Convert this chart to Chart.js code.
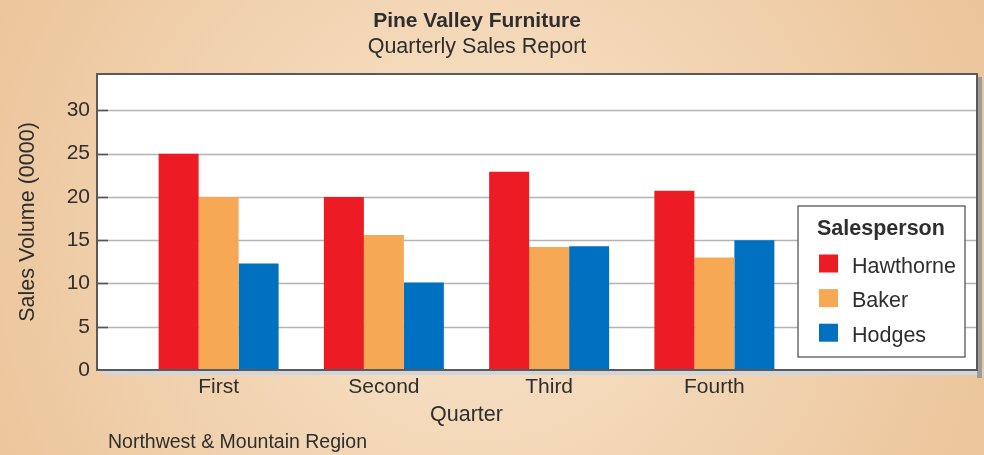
<!DOCTYPE html>
<html lang="en">
<head>
<meta charset="UTF-8" />
<title>Pine Valley Furniture</title>
<script src="https://cdn.jsdelivr.net/npm/chart.js"></script>
<style>
  body { margin: 0; }
  #wrap { width: 984px; height: 455px; }
</style>
</head>
<body>
<div id="wrap"><canvas id="salesChart" width="984" height="455"></canvas></div>
<script>
  const quarters = ['First', 'Second', 'Third', 'Fourth'];
  const salespeople = ['Hawthorne', 'Baker', 'Hodges'];
  const hawthorne = [25, 20, 22.9, 20.7];
  const baker = [20, 15.6, 14.2, 13.0];
  const hodges = [12.3, 10.1, 14.3, 15.0];
  const yTicks = [0, 5, 10, 15, 20, 25, 30];
  const colors = ['#ed1c24', '#f7a854', '#0070c0'];

  const FONT = "'Liberation Sans', Arial, sans-serif";
  const TEXT = '#2e2e2e';

  // frame, gridlines, titles and the boxed legend
  const framePlugin = {
    id: 'frame',
    beforeDraw(chart) {
      const { ctx, chartArea: ca, scales: { y } } = chart;
      const L = ca.left - 39, R = ca.right + 180, T = ca.top, B = ca.bottom;
      ctx.save();
      const g = ctx.createRadialGradient(480, 240, 30, 480, 240, 600);
      g.addColorStop(0, '#f8e3c9');
      g.addColorStop(1, '#eac195');
      ctx.fillStyle = g;
      ctx.fillRect(0, 0, chart.width, chart.height);

      // shadow
      ctx.fillStyle = '#d2d6db';
      ctx.fillRect(L + 6, B, R - L, 5);
      ctx.fillStyle = '#9c9c9c';
      ctx.fillRect(R, T + 3, 5, B - T + 5);

      ctx.fillStyle = '#ffffff';
      ctx.fillRect(L, T, R - L, B - T);

      yTicks.forEach(v => {
        if (v === 0) return;
        const py = Math.round(y.getPixelForValue(v)) + 0.5;
        ctx.strokeStyle = '#b3b3b3';
        ctx.lineWidth = 1.6;
        ctx.beginPath(); ctx.moveTo(L, py); ctx.lineTo(R, py); ctx.stroke();
        ctx.strokeStyle = '#555';
        ctx.beginPath(); ctx.moveTo(L, py); ctx.lineTo(L + 11, py); ctx.stroke();
      });
      ctx.restore();
    },
    afterDatasetsDraw(chart) {
      const { ctx, chartArea: ca } = chart;
      const L = ca.left - 39, R = ca.right + 180, T = ca.top, B = ca.bottom;
      ctx.save();
      ctx.strokeStyle = '#5a5a5a';
      ctx.lineWidth = 2;
      ctx.strokeRect(L, T, R - L, B - T);
      ctx.restore();
    },
    afterDraw(chart) {
      const { ctx, chartArea: ca } = chart;
      ctx.save();
      ctx.fillStyle = TEXT;
      ctx.textBaseline = 'alphabetic';
      ctx.textAlign = 'center';
      ctx.font = 'bold 21px ' + FONT;
      ctx.fillText('Pine Valley Furniture', 477, 27);
      ctx.font = '21.5px ' + FONT;
      ctx.fillText('Quarterly Sales Report', 477, 53);

      ctx.textAlign = 'left';
      ctx.font = '19.5px ' + FONT;
      ctx.fillText('Northwest & Mountain Region', 108, 448);

      // legend
      const lx = ca.right + 1, ly = 206, lw = 167, lh = 151;
      ctx.fillStyle = '#ffffff';
      ctx.fillRect(lx, ly, lw, lh);
      ctx.strokeStyle = '#555';
      ctx.lineWidth = 1.3;
      ctx.strokeRect(lx, ly, lw, lh);
      ctx.fillStyle = TEXT;
      ctx.font = 'bold 21.5px ' + FONT;
      ctx.fillText('Salesperson', lx + 19, 235);
      ctx.font = '21.5px ' + FONT;
      chart.data.datasets.forEach((ds, i) => {
        const base = 272.5 + i * 34.6;
        ctx.fillStyle = ds.backgroundColor;
        ctx.fillRect(lx + 21, base - 18, 19, 18);
        ctx.fillStyle = TEXT;
        ctx.fillText(ds.label, lx + 54, base);
      });
      ctx.restore();
    }
  };

  new Chart(document.getElementById('salesChart'), {
    type: 'bar',
    data: {
      labels: quarters,
      datasets: [
        { label: salespeople[0], data: hawthorne, backgroundColor: colors[0] },
        { label: salespeople[1], data: baker, backgroundColor: colors[1] },
        { label: salespeople[2], data: hodges, backgroundColor: colors[2] }
      ]
    },
    options: {
      responsive: false,
      animation: false,
      layout: { padding: { top: 74, right: 187, bottom: 0, left: 0 } },
      datasets: {
        bar: { barPercentage: 1, categoryPercentage: 0.726, borderWidth: 0 }
      },
      plugins: {
        legend: { display: false },
        title: { display: false },
        tooltip: { enabled: false }
      },
      scales: {
        x: {
          grid: { display: false, drawTicks: false },
          border: { display: false },
          ticks: { color: TEXT, font: { family: FONT, size: 21 }, padding: 5, maxRotation: 0 },
          title: {
            display: true, text: 'Quarter', color: TEXT,
            font: { family: FONT, size: 21.5 }, padding: { top: 0, bottom: 27 }
          },
          afterFit: s => { s.height = 85; }
        },
        y: {
          min: 0,
          max: 34.2,
          grid: { display: false, drawTicks: false },
          border: { display: false },
          afterBuildTicks: s => { s.ticks = yTicks.map(v => ({ value: v })); },
          ticks: { color: TEXT, font: { family: FONT, size: 21 }, padding: 46 },
          title: {
            display: true, text: 'Sales Volume (0000)', color: TEXT,
            font: { family: FONT, size: 21.5 }, padding: { top: 15, bottom: 0 }
          },
          afterFit: s => { s.width = 136; }
        }
      }
    },
    plugins: [framePlugin]
  });
</script>
</body>
</html>
